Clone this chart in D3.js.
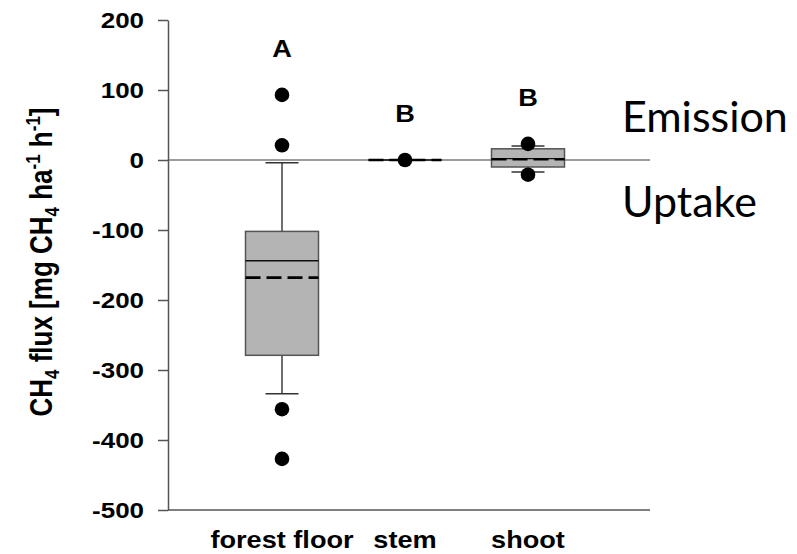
<!DOCTYPE html>
<html>
<head>
<meta charset="utf-8">
<script src="https://cdn.jsdelivr.net/npm/d3@7"></script>
<style>
  html, body { margin: 0; padding: 0; background: #fff; }
  svg { display: block; }
</style>
</head>
<body>
<svg id="chart" width="797" height="554"></svg>
<script>
// CH4 flux by compartment: box plots (quartiles, median, mean, 10th/90th whiskers, outliers)
const categories   = ["forest floor", "stem", "shoot"];
const q1           = [-279, 0, -10];
const q3           = [-102, 0, 16];
const medians      = [-144, 0, 2];
const means        = [-168, 0, 1];
const whiskerLow   = [-334, 0, -17];
const whiskerHigh  = [-4, 0, 20];
const outliers     = [[93, 21, -356, -427], [0], [23, -21]];
const groupLetters = ["A", "B", "B"];
const yTicks       = [200, 100, 0, -100, -200, -300, -400, -500];

const svg = d3.select("#chart");
const stretch = 1.18;           // horizontal widening of the chart lettering
const boldFont = "'Liberation Sans', Arial, sans-serif";

const y = d3.scaleLinear().domain([-500, 200]).range([510, 20]);
const x = d3.scalePoint().domain(categories).range([282, 528]);
const xLeft = 168, xRight = 650;
const boxW = 73, capW = 33;

// zero reference line
svg.append("line")
  .attr("x1", xLeft).attr("x2", xRight)
  .attr("y1", y(0)).attr("y2", y(0))
  .attr("stroke", "#3a3a3a").attr("stroke-width", 1.2);

// y axis (plain hyphen-minus in the labels)
const yAxis = svg.append("g").attr("transform", `translate(${xLeft},0)`)
  .call(d3.axisLeft(y).tickValues(yTicks).tickSize(10).tickSizeOuter(0));
yAxis.select(".domain").attr("stroke", "#555").attr("stroke-width", 1.5);
yAxis.selectAll(".tick line").attr("stroke", "#555").attr("stroke-width", 1.5);
yAxis.selectAll(".tick text").remove();
yAxis.selectAll(".tick").append("g")
  .attr("transform", `translate(-24,0) scale(${stretch},1)`)
  .append("text")
  .attr("text-anchor", "end").attr("dy", "0.36em")
  .attr("font-family", boldFont).attr("font-weight", "bold").attr("font-size", 22)
  .attr("fill", "#000")
  .text(d => String(d));

// x axis baseline
svg.append("line")
  .attr("x1", xLeft).attr("x2", xRight)
  .attr("y1", y(-500)).attr("y2", y(-500))
  .attr("stroke", "#555").attr("stroke-width", 1.5);

// category labels
categories.forEach(c => {
  svg.append("g")
    .attr("transform", `translate(${x(c)},548) scale(${stretch},1)`)
    .append("text")
    .attr("text-anchor", "middle")
    .attr("font-family", boldFont).attr("font-weight", "bold").attr("font-size", 23)
    .text(c);
});

// y-axis title with sub/superscripts
const titleG = svg.append("g")
  .attr("transform", `translate(52,262) scale(${stretch},1) rotate(-90)`);
const title = titleG.append("text")
  .attr("text-anchor", "middle")
  .attr("font-family", boldFont).attr("font-weight", "bold").attr("font-size", 26);
const parts = [
  ["CH", 0], ["4", 1], [" flux [mg CH", 0], ["4", 1], [" ha", 0], ["-1", -1], [" h", 0], ["-1", -1], ["]", 0]
];
let shift = 0;
parts.forEach(([t, s]) => {
  const dy = s === 1 ? 6 - shift : s === -1 ? -10 - shift : -shift;
  title.append("tspan")
    .attr("dy", dy)
    .attr("font-size", s === 0 ? 26 : 17)
    .text(t);
  shift = s === 1 ? 6 : s === -1 ? -10 : 0;
});

// boxes
categories.forEach((c, i) => {
  const cx = x(c);
  const g = svg.append("g");
  // whiskers
  g.append("line").attr("x1", cx).attr("x2", cx)
    .attr("y1", y(q3[i])).attr("y2", y(whiskerHigh[i]))
    .attr("stroke", "#111").attr("stroke-width", 1.2);
  g.append("line").attr("x1", cx).attr("x2", cx)
    .attr("y1", y(q1[i])).attr("y2", y(whiskerLow[i]))
    .attr("stroke", "#111").attr("stroke-width", 1.2);
  [whiskerHigh[i], whiskerLow[i]].forEach(v => {
    g.append("line").attr("x1", cx - capW / 2).attr("x2", cx + capW / 2)
      .attr("y1", y(v)).attr("y2", y(v))
      .attr("stroke", "#333").attr("stroke-width", 1.5);
  });
  // box
  g.append("rect")
    .attr("x", cx - boxW / 2).attr("width", boxW)
    .attr("y", y(q3[i])).attr("height", Math.max(0, y(q1[i]) - y(q3[i])))
    .attr("fill", "#b4b4b4").attr("stroke", "#555").attr("stroke-width", 1.5);
  // median
  g.append("line").attr("x1", cx - boxW / 2).attr("x2", cx + boxW / 2)
    .attr("y1", y(medians[i])).attr("y2", y(medians[i]))
    .attr("stroke", "#111").attr("stroke-width", 1.4);
  // mean
  g.append("line").attr("x1", cx - boxW / 2).attr("x2", cx + boxW / 2)
    .attr("y1", y(means[i])).attr("y2", y(means[i]))
    .attr("stroke", "#000").attr("stroke-width", 2.6)
    .attr("stroke-dasharray", "15,6");
  // outliers
  g.selectAll("circle").data(outliers[i]).enter().append("circle")
    .attr("cx", cx).attr("cy", d => y(d)).attr("r", 7.3)
    .attr("fill", "#000");
  // significance letter above the highest mark
  const top = d3.max(outliers[i].concat([whiskerHigh[i]]));
  svg.append("g")
    .attr("transform", `translate(${cx},${y(top + 60) + 4}) scale(${stretch},1)`)
    .append("text")
    .attr("text-anchor", "middle")
    .attr("font-family", boldFont).attr("font-weight", "bold").attr("font-size", 23)
    .text(groupLetters[i]);
});

// flux direction annotations
svg.append("text").attr("x", 622).attr("y", 132)
  .attr("font-family", "Lato, 'Open Sans', sans-serif").attr("font-size", 43)
  .attr("fill", "#000").text("Emission");
svg.append("text").attr("x", 622).attr("y", 217)
  .attr("font-family", "Lato, 'Open Sans', sans-serif").attr("font-size", 43)
  .attr("fill", "#000").text("Uptake");
</script>
</body>
</html>
